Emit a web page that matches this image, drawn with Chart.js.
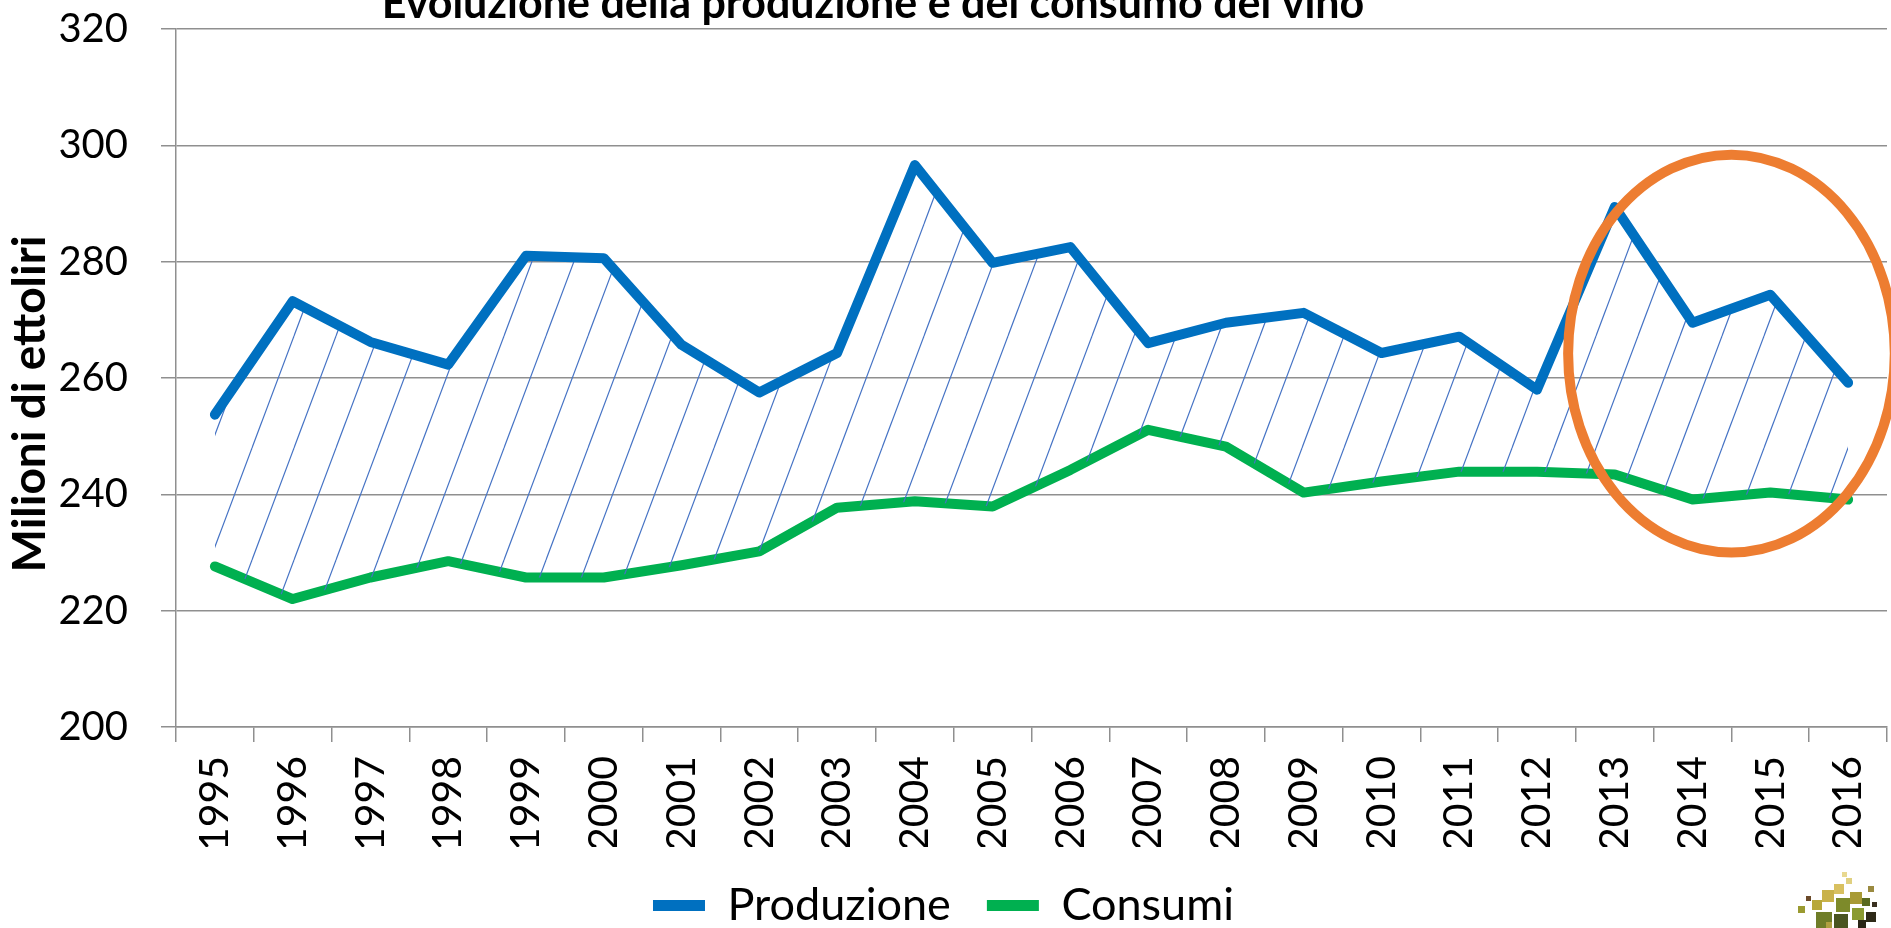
<!DOCTYPE html>
<html>
<head>
<meta charset="utf-8">
<script src="https://cdn.jsdelivr.net/npm/chart.js@4.4.1/dist/chart.umd.min.js"></script>
<style>
  html, body { margin: 0; padding: 0; background: #fff; }
  #wrap { position: relative; width: 1891px; height: 928px; }
</style>
</head>
<body>
<div id="wrap"><canvas id="chart"></canvas></div>
<script>
/* ─── Data ─────────────────────────────────────── */

const TITLE = 'Evoluzione della produzione e del consumo del vino';
const Y_TITLE = 'Milioni di ettoliri';

const YEARS = ['1995', '1996', '1997', '1998', '1999', '2000', '2001', '2002', '2003', '2004', '2005',
  '2006', '2007', '2008', '2009', '2010', '2011', '2012', '2013', '2014', '2015', '2016'];

const PRODUZIONE = [253.7, 273.2, 266.2, 262.3, 281.0, 280.6, 265.7, 257.5, 264.3, 296.6, 279.8,
  282.5, 266.0, 269.5, 271.2, 264.3, 267.1, 258.0, 289.4, 269.5, 274.3, 259.2];

const CONSUMI = [227.6, 222.0, 225.7, 228.5, 225.7, 225.7, 227.8, 230.2, 237.7, 238.8, 237.9,
  244.2, 251.1, 248.2, 240.3, 242.2, 243.9, 243.9, 243.4, 239.1, 240.3, 239.1];

const Y_MIN = 200, Y_MAX = 320, Y_STEP = 20;

// highlighted region (orange ring) : centre between 2014 and 2015
const RING_CENTER_INDEX = 19.5, RING_CENTER_VALUE = 264.2;
const RING_HALF_CATS = 2.1, RING_HALF_VALUE = 34.2;

/* ─── Styles ───────────────────────────────────── */

const COLORS = {
  blue: '#0070C0', green: '#00B050', hatch: '#4472C4',
  orange: '#ED7D31', grid: '#8f8f8f', text: '#000000',
};
const FONT = 'Lato';

function hatchPattern() {
  const w = 42, h = 112;
  const c = document.createElement('canvas');
  c.width = w; c.height = h;
  const g = c.getContext('2d');
  g.strokeStyle = COLORS.hatch;
  g.lineWidth = 1.2;
  for (const off of [-w, 0, w]) {
    g.beginPath();
    g.moveTo(off, h);
    g.lineTo(off + w, 0);
    g.stroke();
  }
  return g.createPattern(c, 'repeat');
}

/* ─── Extra drawing: titles, ring, logo ────────── */

const decorPlugin = {
  id: 'decor',
  afterDatasetsDraw(chart) {
    const { ctx, scales: { x, y } } = chart;
    const step = x.getPixelForValue(1) - x.getPixelForValue(0);
    const cx = x.getPixelForValue(0) + RING_CENTER_INDEX * step;
    const cy = y.getPixelForValue(RING_CENTER_VALUE);
    const rx = RING_HALF_CATS * step;
    const ry = Math.abs(y.getPixelForValue(RING_CENTER_VALUE + RING_HALF_VALUE) - cy);
    ctx.save();
    ctx.strokeStyle = COLORS.orange;
    ctx.lineWidth = 10;
    ctx.beginPath();
    ctx.ellipse(cx, cy, rx, ry, 0, 0, Math.PI * 2);
    ctx.stroke();
    ctx.restore();
  },
  afterDraw(chart) {
    const { ctx, chartArea } = chart;
    ctx.save();
    ctx.fillStyle = COLORS.text;
    ctx.font = `bold 43px ${FONT}`;
    ctx.textAlign = 'center';
    ctx.textBaseline = 'alphabetic';
    ctx.fillText(TITLE, 873, 18);

    // axis title, a little below the plot's middle as in the source
    ctx.save();
    ctx.translate(30, (chartArea.top + chartArea.bottom) / 2 + 26);
    ctx.rotate(-Math.PI / 2);
    ctx.font = `bold 46px ${FONT}`;
    ctx.textBaseline = 'middle';
    ctx.fillText(Y_TITLE, 0, 0);
    ctx.restore();

    // little vineyard logo, bottom right
    const sq = [
      [1798, 906, 7, '#9a9a30'], [1806, 896, 5, '#6b4a2a'], [1812, 900, 10, '#b8a83a'],
      [1822, 890, 12, '#c9b24a'], [1834, 884, 10, '#d8c060'], [1846, 878, 6, '#e0d080'],
      [1836, 898, 14, '#7d8a2a'], [1850, 892, 12, '#a89a35'], [1862, 898, 8, '#5a6a20'],
      [1816, 912, 16, '#6f7d28'], [1834, 914, 14, '#4a5520'], [1852, 908, 12, '#8a9a30'],
      [1866, 912, 10, '#2e2a18'], [1872, 902, 5, '#3a3020'], [1858, 920, 8, '#2a2616'],
      [1826, 922, 6, '#b0a040'], [1842, 872, 5, '#e8d890'], [1868, 886, 6, '#9a8a40'],
    ];
    for (const [sx, sy, s, c] of sq) {
      ctx.fillStyle = c;
      ctx.fillRect(sx, sy, s, s);
    }
    ctx.restore();
  },
};

/* ─── Chart ────────────────────────────────────── */

const ctx = document.getElementById('chart');

new Chart(ctx, {
  type: 'line',
  data: {
    labels: YEARS,
    datasets: [
      {
        label: 'Produzione', data: PRODUZIONE,
        borderColor: COLORS.blue, backgroundColor: hatchPattern(),
        fill: '+1', borderWidth: 10, tension: 0,
        borderJoinStyle: 'round', borderCapStyle: 'round',
        pointRadius: 0, pointHoverRadius: 0,
      },
      {
        label: 'Consumi', data: CONSUMI,
        borderColor: COLORS.green, backgroundColor: COLORS.green,
        fill: false, borderWidth: 10, tension: 0,
        borderJoinStyle: 'round', borderCapStyle: 'round',
        pointRadius: 0, pointHoverRadius: 0,
      },
    ],
  },
  options: {
    responsive: true, maintainAspectRatio: false,
    animation: false,
    layout: { padding: { top: 0, right: 4, left: 0, bottom: -10 } },
    plugins: {
      title: { display: false },
      tooltip: { enabled: false },
      legend: {
        position: 'bottom',
        labels: {
          color: COLORS.text, font: { family: FONT, size: 45 },
          boxWidth: 52, boxHeight: 11, padding: 36,
          useBorderRadius: true, borderRadius: 5,
          generateLabels: chart => chart.data.datasets.map((ds, i) => ({
            text: ds.label, fillStyle: ds.borderColor, strokeStyle: ds.borderColor,
            lineWidth: 0, datasetIndex: i, hidden: false, fontColor: COLORS.text,
          })),
        },
      },
    },
    scales: {
      x: {
        offset: true,
        grid: { offset: true, drawOnChartArea: false, drawTicks: true, tickLength: 15, color: COLORS.grid, lineWidth: 1.5 },
        border: { display: true, color: COLORS.grid, width: 1.5 },
        ticks: { color: COLORS.text, font: { family: FONT, size: 41 }, minRotation: 90, maxRotation: 90, padding: 14, autoSkip: false },
        afterFit: s => { s.height = 120; s.paddingLeft = 0; s.paddingRight = 0; },
      },
      y: {
        min: Y_MIN, max: Y_MAX,
        grid: { color: COLORS.grid, lineWidth: 1.5, tickLength: 15 },
        border: { display: true, color: COLORS.grid, width: 1.5 },
        ticks: { stepSize: Y_STEP, color: COLORS.text, font: { family: FONT, size: 40 }, padding: 33 },
        afterFit: s => { s.width = 176; s.paddingTop = 29; s.paddingBottom = 24; },
      },
    },
  },
  plugins: [decorPlugin],
});
</script>
</body>
</html>
